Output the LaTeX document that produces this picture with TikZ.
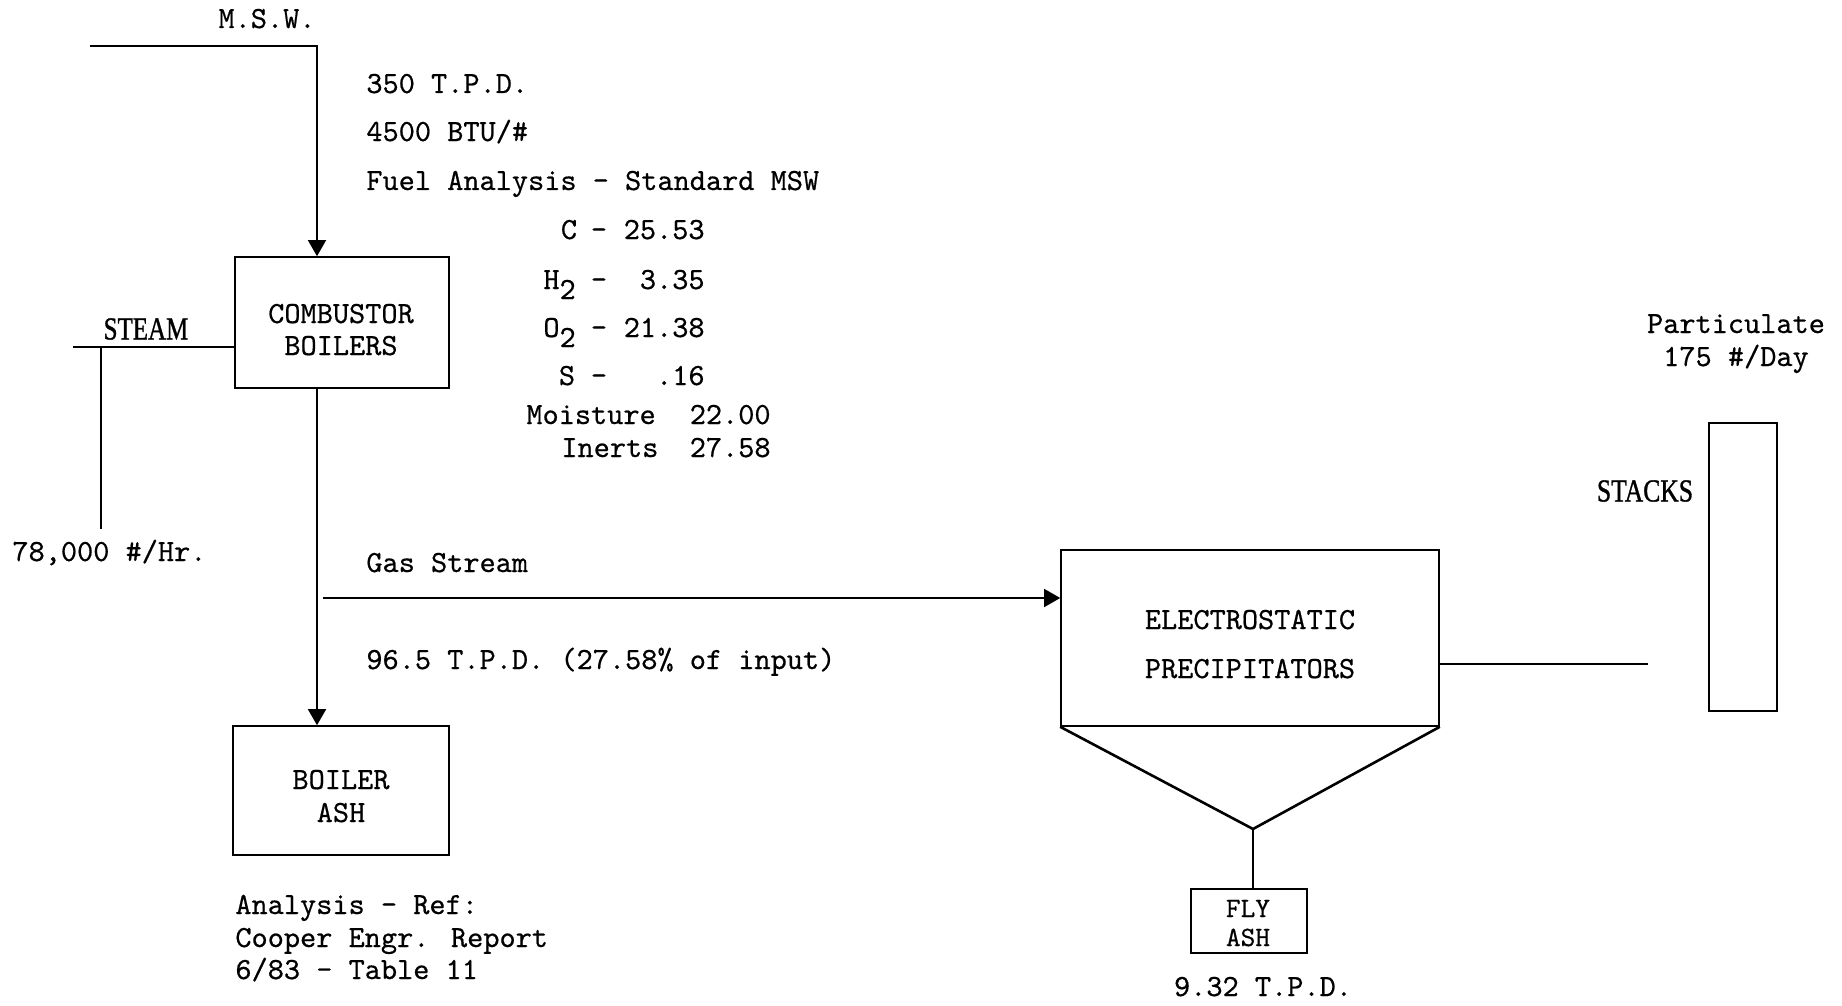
\documentclass[tikz,border=0pt]{standalone}
\usepackage{fontspec}
\usepackage{graphicx}
\usetikzlibrary{arrows.meta}
\newfontfamily\tw[FakeBold=0.5]{lmmono10-regular.otf}
\newfontfamily\lbl[FakeBold=1.2]{Liberation Serif}
\begin{document}
\begin{tikzpicture}[x=0.5pt,y=-0.5pt,
  every node/.style={font=\tw\fontsize{15.4}{16}\selectfont, inner sep=0pt},
  box/.style={draw, line width=0.8pt},
  txt/.style={anchor=base west},
  txe/.style={anchor=base east},
  txc/.style={anchor=base},
  small/.style={font=\tw\fontsize{14}{14}\selectfont},
  ln/.style={line width=0.8pt},
  arr/.style={ln, -{Triangle[width=9pt,length=8pt]}},
  hand/.style={font=\lbl\fontsize{16}{18}\selectfont}
]
\useasboundingbox (0,0) rectangle (1842,1006);
\fill[white] (0,0) rectangle (1842,1006);

% boxes
\node[box, minimum width=107pt, minimum height=65.5pt] (comb) at (342,322.5) {};
\node[box, minimum width=108pt, minimum height=64.5pt] (ash) at (341,790.5) {};
\node[box, minimum width=189pt, minimum height=88pt] (esp) at (1250,638) {};
\node[box, minimum width=58pt, minimum height=32pt] (fly) at (1249,921) {};
\node[box, minimum width=34pt, minimum height=144pt] (stack) at (1743,567) {};

% box texts
\node[txc] (combt1) at (341,323) {COMBUSTOR};
\node[txc] (combt2) at (341,355) {BOILERS};
\node[txc] (asht1) at (341,789) {BOILER};
\node[txc] (asht2) at (341,822) {ASH};
\node[txc] (espt1) at (1250,629) {ELECTROSTATIC};
\node[txc] (espt2) at (1250,678) {PRECIPITATORS};
\node[txc, small] (flyt1) at (1248,917) {FLY};
\node[txc, small] (flyt2) at (1248,946) {ASH};

% coordinates
\coordinate (mswstart) at (90,46);
\coordinate (mswc) at (317,46);
\coordinate (steamstart) at (73,347);
\coordinate (steamv) at (101,347);
\coordinate (steamend) at (101,529);
\coordinate (gasin) at (323,598);
\coordinate (gasout) at (1648,664);
\coordinate (apex) at (1253,829);

% connectors
\draw[arr] (mswstart) -- (mswc) -- (mswc |- comb.north);
\draw[ln] (steamstart) -- (steamstart -| comb.west);
\draw[ln] (steamv) -- (steamend);
\draw[arr] (comb.south -| mswc) -- (ash.north -| mswc);
\draw[arr] (gasin) -- (esp.west |- gasin);
\draw[ln] (esp.east |- gasout) -- (gasout);
\draw[line width=1.3pt] (esp.south west) -- (apex) -- (esp.south east);
\draw[ln] (apex) -- (apex |- fly.north);

% labels
\node[txc] (msw) at (267,28) {M.S.W.};
\node[hand] (steam) at (146,329) {\scalebox{0.78}[1]{STEAM}};
\node[txt] (flow) at (12,561) {78,000 \#/Hr.};
\node[txt] (tpd) at (366,93) {350 T.P.D.};
\node[txt] (btu) at (366,141) {4500 BTU/\#};
\node[txt] (fuel) at (366,190) {Fuel Analysis - Standard MSW};

\node[txc] (cC) at (569,239) {C};
\node[txc] (cCd) at (599,239) {-};
\node[txe] (cCv) at (705,239) {25.53};
\node[txt] (cH) at (543,289) {H\raisebox{-5pt}{2}};
\node[txc] (cHd) at (599,289) {-};
\node[txe] (cHv) at (705,289) {3.35};
\node[txt] (cO) at (543,337) {O\raisebox{-5pt}{2}};
\node[txc] (cOd) at (599,337) {-};
\node[txe] (cOv) at (705,337) {21.38};
\node[txc] (cS) at (567,385) {S};
\node[txc] (cSd) at (599,385) {-};
\node[txe] (cSv) at (705,385) {.16};
\node[txt] (moist) at (526,424) {Moisture};
\node[txe] (moistv) at (771,424) {22.00};
\node[txt] (inert) at (561,457) {Inerts};
\node[txe] (inertv) at (771,457) {27.58};

\node[txt] (gas) at (366,572) {Gas Stream};
\node[txt] (gastpd) at (366,669) {96.5 T.P.D. (27.58\% of input)};
\node[txt] (ref1) at (235,914) {Analysis - Ref:};
\node[txt] (ref2) at (235,947) {Cooper Engr. Report};
\node[txt] (ref3) at (235,979) {6/83 - Table 11};
\node[txc] (part1) at (1736,333) {Particulate};
\node[txc] (part2) at (1736,366) {175 \#/Day};
\node[hand] (stacks) at (1645,491) {\scalebox{0.8}[1]{STACKS}};
\node[txc] (flytpd) at (1263,996) {9.32 T.P.D.};
\end{tikzpicture}
\end{document}
